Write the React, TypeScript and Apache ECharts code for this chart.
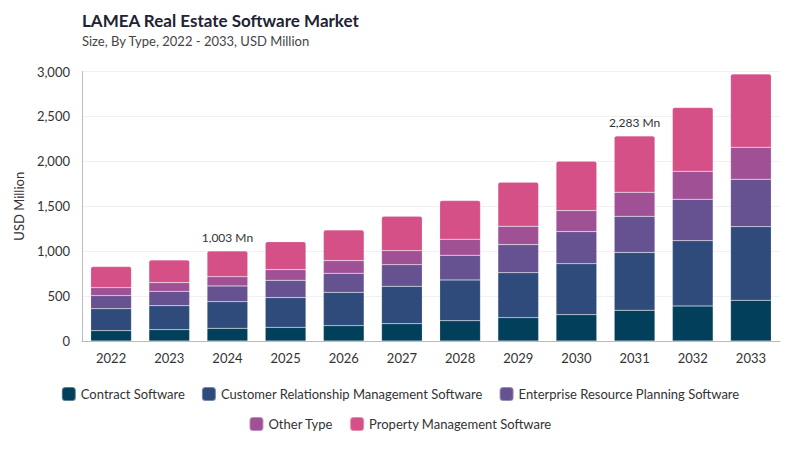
import React, { useEffect, useRef } from 'react';
import * as echarts from 'echarts';

const years = ['2022', '2023', '2024', '2025', '2026', '2027', '2028', '2029', '2030', '2031', '2032', '2033'];

const contractSoftware = [115, 126, 141, 152, 171, 193, 226, 260, 293, 343, 390, 453];
const crmSoftware = [245, 267, 297, 331, 371, 416, 454, 501, 568, 643, 727, 820];
const erpSoftware = [145, 160, 175, 193, 212, 241, 275, 312, 357, 402, 461, 528];
const otherType = [89, 97, 103, 119, 141, 156, 178, 205, 234, 268, 312, 357];
const propertyManagement = [234, 252, 287, 311, 342, 383, 430, 490, 550, 627, 709, 813];

const labelledYears = ['2024', '2031'];

const seriesNames = [
  'Contract Software',
  'Customer Relationship Management Software',
  'Enterprise Resource Planning Software',
  'Other Type',
  'Property Management Software',
];
const colors = ['#023f5a', '#2e4b7b', '#665191', '#a05195', '#d45087'];

const FONT = 'Lato, "Noto Sans", sans-serif';

const App: React.FC = () => {
  const chartRef = useRef<HTMLDivElement>(null);

  useEffect(() => {
    const chart = echarts.init(chartRef.current, null, { renderer: 'svg' });

    const allData = [contractSoftware, crmSoftware, erpSoftware, otherType, propertyManagement];
    const totals = years.map((_, i) => allData.reduce((s, arr) => s + arr[i], 0));

    const series = allData.map((data, idx) => ({
      name: seriesNames[idx],
      type: 'bar',
      stack: 'total',
      data,
      barCategoryGap: '30%',
      itemStyle: {
        color: colors[idx],
        borderColor: 'rgba(255,255,255,0.35)',
        borderWidth: 0.5,
        borderRadius: idx === 4 ? [2, 2, 0, 0] : 0,
      },
      label: idx === 4 ? {
        show: true,
        position: 'top',
        distance: 7,
        color: '#333',
        fontFamily: FONT,
        fontSize: 12,
        formatter: (p: any) =>
          labelledYears.includes(p.name) ? `${totals[p.dataIndex].toLocaleString('en-US')} Mn` : '',
      } : { show: false },
    }));

    const legendBase = {
      icon: 'roundRect',
      itemWidth: 14,
      itemHeight: 14,
      itemGap: 16,
      left: 'center',
      textStyle: { fontFamily: FONT, fontSize: 13, color: '#333' },
    };

    const option = {
      animation: false,
      textStyle: { fontFamily: FONT },
      title: {
        text: 'LAMEA Real Estate Software Market',
        subtext: 'Size, By Type, 2022 - 2033, USD Million',
        left: 77,
        top: 7,
        itemGap: 5,
        textStyle: { fontFamily: FONT, fontSize: 17, fontWeight: 'bold', color: '#222233' },
        subtextStyle: { fontFamily: FONT, fontSize: 13, color: '#444' },
      },
      legend: [
        { ...legendBase, top: 381, data: seriesNames.slice(0, 3) },
        { ...legendBase, top: 411, data: seriesNames.slice(3) },
      ],
      grid: { left: 82, right: 20, top: 71.5, bottom: 109 },
      xAxis: {
        type: 'category',
        data: years,
        axisLine: { lineStyle: { color: '#bbb' } },
        axisTick: { show: false },
        axisLabel: { color: '#333', fontSize: 13, margin: 10, fontFamily: FONT },
      },
      yAxis: {
        type: 'value',
        min: 0,
        max: 3000,
        interval: 500,
        name: 'USD Million',
        nameLocation: 'middle',
        nameGap: 56,
        nameTextStyle: { color: '#333', fontSize: 13, fontFamily: FONT },
        axisLine: { show: true, lineStyle: { color: '#bbb' } },
        axisTick: { show: false },
        splitLine: { lineStyle: { color: '#f0f0f0' } },
        axisLabel: {
          color: '#333',
          fontSize: 13,
          margin: 12,
          fontFamily: FONT,
          formatter: (v: number) => v.toLocaleString('en-US'),
        },
      },
      series,
    };

    chart.setOption(option);

    return () => {
      chart.dispose();
    };
  }, []);

  return (
    <div
      ref={chartRef}
      style={{ position: 'absolute', left: 0, top: 0, width: '800px', height: '450px' }}
    />
  );
};

export default App;
